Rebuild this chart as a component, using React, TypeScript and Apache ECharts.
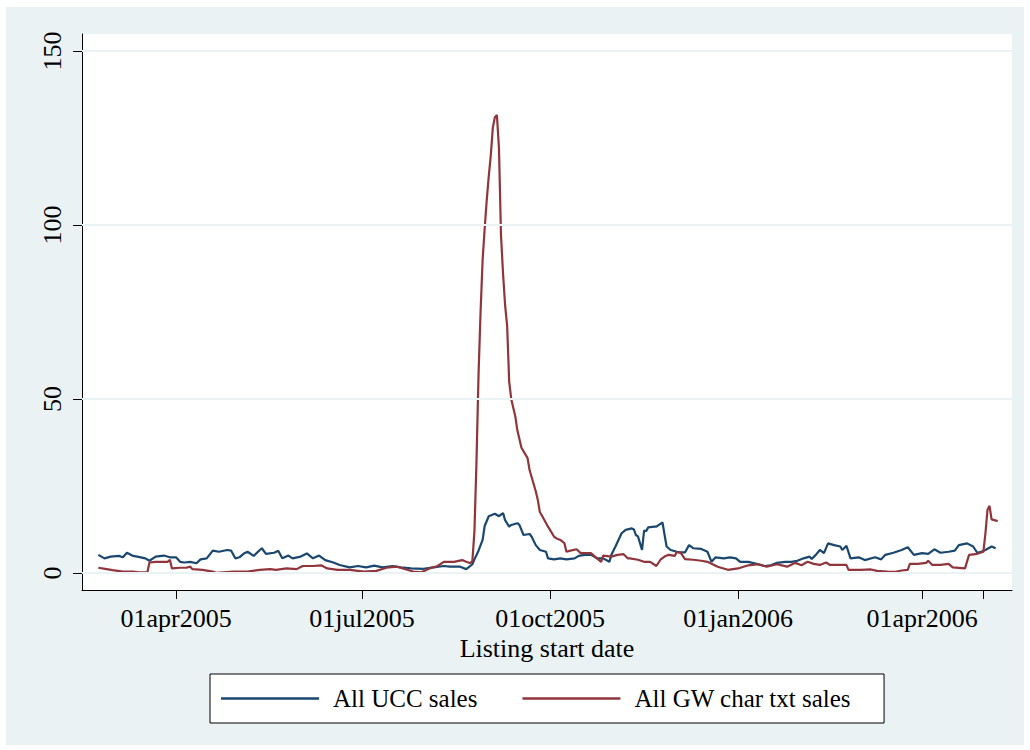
import React, { useEffect, useRef } from "react";
import * as echarts from "echarts";

// ---- data ----
const uccDates = [
  "2005-02-22","2005-02-25","2005-02-28","2005-03-04","2005-03-06","2005-03-08","2005-03-11","2005-03-13","2005-03-17","2005-03-19",
  "2005-03-22","2005-03-26","2005-03-29","2005-04-01","2005-04-03","2005-04-05","2005-04-08","2005-04-11","2005-04-13","2005-04-16",
  "2005-04-19","2005-04-22","2005-04-26","2005-04-28","2005-04-30","2005-05-02","2005-05-04","2005-05-06","2005-05-09","2005-05-12",
  "2005-05-13","2005-05-15","2005-05-19","2005-05-21","2005-05-23","2005-05-26","2005-05-28","2005-06-01","2005-06-04","2005-06-07",
  "2005-06-10","2005-06-13","2005-06-17","2005-06-20","2005-06-25","2005-06-29","2005-07-03","2005-07-07","2005-07-11","2005-07-16",
  "2005-07-20","2005-07-25","2005-07-31","2005-08-05","2005-08-10","2005-08-13","2005-08-18","2005-08-21","2005-08-24","2005-08-25",
  "2005-08-27","2005-08-29","2005-08-30","2005-09-01","2005-09-04","2005-09-06","2005-09-08","2005-09-09","2005-09-11","2005-09-12",
  "2005-09-15","2005-09-16","2005-09-18","2005-09-21","2005-09-22","2005-09-24","2005-09-26","2005-09-29","2005-09-30","2005-10-03",
  "2005-10-06","2005-10-09","2005-10-13","2005-10-15","2005-10-18","2005-10-21","2005-10-24","2005-10-27","2005-10-30","2005-10-31",
  "2005-11-02","2005-11-05","2005-11-07","2005-11-10","2005-11-11","2005-11-12","2005-11-13","2005-11-15","2005-11-16","2005-11-17",
  "2005-11-18","2005-11-21","2005-11-22","2005-11-24","2005-11-25","2005-11-27","2005-11-29","2005-12-02","2005-12-04","2005-12-06",
  "2005-12-08","2005-12-10","2005-12-14","2005-12-17","2005-12-19","2005-12-21","2005-12-25","2005-12-28","2005-12-31","2006-01-02",
  "2006-01-06","2006-01-10","2006-01-14","2006-01-17","2006-01-20","2006-01-24","2006-01-27","2006-01-30","2006-02-02","2006-02-05",
  "2006-02-06","2006-02-08","2006-02-10","2006-02-12","2006-02-14","2006-02-17","2006-02-20","2006-02-21","2006-02-23","2006-02-25",
  "2006-03-01","2006-03-04","2006-03-09","2006-03-12","2006-03-14","2006-03-18","2006-03-22","2006-03-25","2006-03-28","2006-04-01",
  "2006-04-04","2006-04-07","2006-04-10","2006-04-14","2006-04-17","2006-04-19","2006-04-23","2006-04-26","2006-04-28","2006-04-30",
  "2006-05-02","2006-05-05","2006-05-07",
];
const uccSales = [
  5.2,4.2,4.7,4.9,4.5,5.8,4.9,4.7,4.2,3.5,
  4.7,5.0,4.5,4.5,3.2,3.0,3.2,2.8,3.9,4.2,
  6.4,6.1,6.6,6.4,4.2,4.5,5.5,6.1,4.9,6.6,
  7.1,5.5,5.8,6.4,4.2,5.0,4.2,4.7,5.6,4.2,
  5.0,3.7,3.0,2.3,1.6,2.0,1.6,2.1,1.6,2.0,
  1.6,1.3,1.2,1.6,2.0,1.8,1.8,1.1,2.5,3.9,
  6.4,9.5,13.5,16.3,17.0,16.3,17.2,15.2,13.3,13.8,
  14.3,13.8,10.9,11.2,10.4,8.0,6.6,6.1,4.2,3.9,
  4.2,3.9,4.2,4.9,5.2,5.2,4.2,4.2,3.2,5.2,
  7.6,11.4,12.4,12.8,12.5,10.9,10.5,6.6,12.2,12.0,
  13.1,13.3,13.3,14.1,14.5,7.6,6.6,6.1,5.9,5.9,
  8.0,7.1,6.9,6.1,3.2,4.5,4.2,4.5,4.2,3.2,
  3.2,2.6,2.0,2.2,2.9,3.2,3.2,3.5,4.2,4.7,
  4.0,5.2,6.6,5.7,8.5,8.0,7.6,6.6,7.8,4.2,
  4.5,3.7,4.5,3.9,5.2,5.8,6.6,7.4,5.2,5.7,
  5.5,6.8,5.8,6.1,6.4,8.0,8.5,7.6,5.8,6.1,
  6.6,7.6,7.1,
];

const gwDates = [
  "2005-02-22","2005-02-26","2005-03-01","2005-03-06","2005-03-11","2005-03-14","2005-03-18","2005-03-19","2005-03-22","2005-03-28",
  "2005-03-29","2005-03-30","2005-04-03","2005-04-06","2005-04-08","2005-04-09","2005-04-14","2005-04-19","2005-04-21","2005-04-24",
  "2005-04-29","2005-05-06","2005-05-12","2005-05-17","2005-05-20","2005-05-25","2005-05-30","2005-06-02","2005-06-07","2005-06-11",
  "2005-06-14","2005-06-19","2005-06-25","2005-07-02","2005-07-08","2005-07-13","2005-07-18","2005-07-21","2005-07-26","2005-07-30",
  "2005-08-03","2005-08-07","2005-08-10","2005-08-15","2005-08-19","2005-08-21","2005-08-23","2005-08-24","2005-08-25","2005-08-26",
  "2005-08-27","2005-08-28","2005-08-29","2005-08-30","2005-08-31","2005-09-01","2005-09-02","2005-09-03","2005-09-04","2005-09-05",
  "2005-09-06","2005-09-07","2005-09-08","2005-09-09","2005-09-10","2005-09-11","2005-09-12","2005-09-13","2005-09-14","2005-09-15",
  "2005-09-17","2005-09-20","2005-09-21","2005-09-24","2005-09-25","2005-09-26","2005-09-27","2005-09-30","2005-10-03","2005-10-04",
  "2005-10-06","2005-10-08","2005-10-09","2005-10-11","2005-10-14","2005-10-16","2005-10-18","2005-10-21","2005-10-23","2005-10-26",
  "2005-10-27","2005-10-31","2005-11-03","2005-11-06","2005-11-08","2005-11-09","2005-11-13","2005-11-16","2005-11-19","2005-11-22",
  "2005-11-24","2005-11-26","2005-11-28","2005-12-01","2005-12-02","2005-12-04","2005-12-06","2005-12-10","2005-12-14","2005-12-17",
  "2005-12-22","2005-12-27","2006-01-01","2006-01-06","2006-01-11","2006-01-15","2006-01-20","2006-01-25","2006-01-29","2006-02-01",
  "2006-02-04","2006-02-07","2006-02-10","2006-02-13","2006-02-15","2006-02-22","2006-02-23","2006-02-24","2006-03-02","2006-03-07",
  "2006-03-10","2006-03-15","2006-03-19","2006-03-22","2006-03-25","2006-03-26","2006-03-30","2006-04-03","2006-04-04","2006-04-06",
  "2006-04-10","2006-04-14","2006-04-16","2006-04-22","2006-04-24","2006-04-28","2006-05-01","2006-05-02","2006-05-03","2006-05-04",
  "2006-05-05","2006-05-08",
];
const gwSales = [
  1.5,1.1,0.8,0.4,0.4,0.2,0.2,3.0,3.2,3.2,
  3.8,1.3,1.5,1.5,1.8,1.1,0.9,0.4,0.0,0.2,
  0.4,0.4,0.9,1.1,0.9,1.3,1.1,2.0,2.0,2.2,
  1.3,0.9,0.9,0.4,0.6,1.5,1.8,1.3,0.4,0.2,
  1.3,2.0,3.2,3.2,3.7,3.2,2.8,3.5,12,32,
  57,75,90,99,107,114,120,128,131,131.6,
  122,97,86,77,71,55,50,47.5,45,41,
  36,33,29.5,23.5,21,17.5,16.5,13.3,10.4,10.0,
  9.5,8.6,6.1,6.4,6.8,5.7,5.7,5.7,4.7,3.2,
  5.0,4.7,5.2,5.4,4.2,4.2,3.8,3.2,3.2,2.0,
  3.8,4.7,5.2,4.9,6.1,5.7,4.0,3.8,3.5,3.2,
  1.8,0.9,1.3,2.2,2.5,1.8,2.5,1.8,2.9,2.2,
  3.2,2.6,2.3,3.0,2.3,2.3,2.3,0.9,0.9,1.0,
  0.6,0.4,0.3,0.7,0.9,2.6,2.6,2.9,3.5,2.3,
  2.3,2.6,1.6,1.3,5.2,5.5,6.1,11.4,18.1,19.3,
  15.4,14.9,
];

const xLabelDates = ["2005-04-01", "2005-07-01", "2005-10-01", "2006-01-01", "2006-04-01"];
const xTickDates = ["2005-04-01", "2005-07-01", "2005-10-01", "2006-01-01", "2006-04-01", "2006-05-01"];
const xRange = ["2005-02-14", "2006-05-15"];
const yTicks = [0, 50, 100, 150];
const seriesNames = ["All UCC sales", "All GW char txt sales"];
const xTitle = "Listing start date";

const months = ["jan","feb","mar","apr","may","jun","jul","aug","sep","oct","nov","dec"];
const FONT = "Liberation Serif";
const BG = "#EAF2F3";
const BLUE = "#1A476F";
const RED = "#90353B";

const toMs = (s: string) => Date.parse(s + "T00:00:00Z");
const fmtDate = (ms: number) => {
  const d = new Date(ms);
  return String(d.getUTCDate()).padStart(2, "0") + months[d.getUTCMonth()] + d.getUTCFullYear();
};

export default function App() {
  const ref = useRef<HTMLDivElement>(null);
  useEffect(() => {
    if (!ref.current) return;
    const chart = echarts.init(ref.current, undefined, { renderer: "svg" });
    const ucc = uccDates.map((d, i) => [toMs(d), uccSales[i]]);
    const gw = gwDates.map((d, i) => [toMs(d), gwSales[i]]);
    chart.setOption({
      animation: false,
      backgroundColor: BG,
      grid: {
        left: 76, top: 27, right: 12, bottom: 155,
        show: true, backgroundColor: "#fff", borderWidth: 0,
      },
      legend: {
        data: seriesNames,
        left: 204, top: 667,
        orient: "horizontal",
        backgroundColor: "#fff",
        borderColor: "#000", borderWidth: 1, borderRadius: 0,
        padding: [12, 33, 12, 11],
        icon: "rect",
        itemWidth: 98, itemHeight: 2.5, itemGap: 45,
        textStyle: { fontFamily: FONT, fontSize: 25, color: "#000", padding: [0, 0, 0, 9] },
      },
      xAxis: {
        type: "value",
        min: toMs(xRange[0]), max: toMs(xRange[1]),
        axisLine: { show: true, onZero: false, lineStyle: { color: "#000", width: 1 } },
        axisTick: { show: true, length: 9, customValues: xTickDates.map(toMs), lineStyle: { color: "#000" } },
        axisLabel: {
          customValues: xLabelDates.map(toMs),
          formatter: (v: number) => fmtDate(v),
          fontFamily: FONT, fontSize: 26, lineHeight: 24, color: "#000", margin: 16,
        },
        splitLine: { show: false },
        name: xTitle, nameLocation: "middle", nameGap: 46, nameMoveOverlap: false,
        nameTextStyle: { fontFamily: FONT, fontSize: 26, lineHeight: 24, color: "#000" },
      },
      yAxis: {
        type: "value",
        min: -4.9, max: 154.9,
        axisLine: { show: true, onZero: false, lineStyle: { color: "#000", width: 1 } },
        axisTick: { show: true, length: 9, customValues: yTicks, lineStyle: { color: "#000" } },
        axisLabel: {
          customValues: yTicks, rotate: 90, margin: 17,
          fontFamily: FONT, fontSize: 26, color: "#000",
        },
        splitLine: { show: false },
      },
      series: [
        {
          type: "line", name: "grid", data: [], z: 1, silent: true,
          markLine: {
            silent: true, symbol: ["none", "none"], label: { show: false },
            lineStyle: { color: BG, width: 2, type: "solid" },
            data: yTicks.map((v) => ({ yAxis: v })),
          },
        },
        {
          type: "line", name: seriesNames[0], data: ucc, z: 3,
          showSymbol: false, color: BLUE, lineStyle: { color: BLUE, width: 2.2 },
        },
        {
          type: "line", name: seriesNames[1], data: gw, z: 4,
          showSymbol: false, color: RED, lineStyle: { color: RED, width: 2.2 },
        },
      ],
    });
    return () => chart.dispose();
  }, []);
  return (
    <div
      ref={ref}
      style={{ position: "absolute", left: 6, top: 7, width: 1018, height: 738 }}
    />
  );
}
